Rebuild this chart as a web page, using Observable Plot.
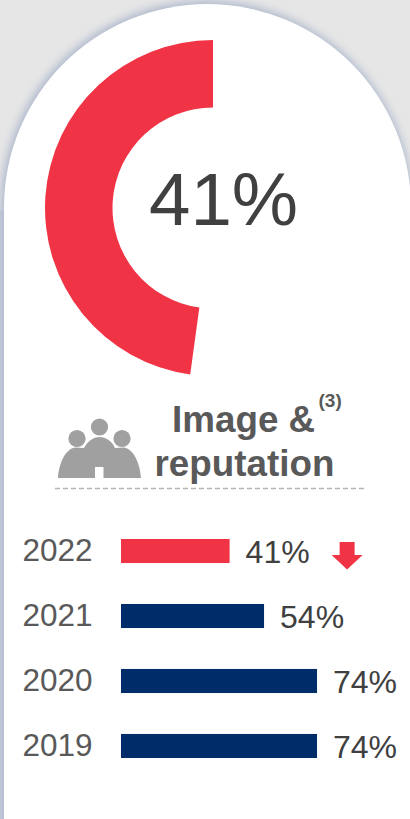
<!DOCTYPE html>
<html>
<head>
<meta charset="utf-8">
<script src="https://cdn.jsdelivr.net/npm/d3@7"></script>
<script src="https://cdn.jsdelivr.net/npm/@observablehq/plot@0.6"></script>
<style>
  html, body { margin: 0; padding: 0; }
  body { width: 410px; height: 819px; background: #e6e6e6; overflow: hidden; position: relative; font-family: "Liberation Sans", Arial, sans-serif; }
  #card { position: absolute; left: 4px; top: 4px; width: 407px; height: 830px; background: #fff; border-radius: 203.5px 203.5px 0 0 / 203.5px 203.5px 0 0; box-shadow: -1px -1px 9px 2px #aeb9cd; }
  #strip { position: absolute; left: 0; top: 210px; width: 4px; height: 609px; background: #ccd2dd; }
  #gauge, #header, #bars { position: absolute; left: 0; }
  #gauge { top: 0; }
  #header { top: 380px; }
  #bars { top: 518px; }
  svg { display: block; overflow: visible; }
</style>
</head>
<body>
<div id="strip"></div>
<div id="card"></div>
<div id="gauge"></div>
<svg id="header" width="410" height="120" viewBox="0 380 410 120">
  <!-- Group-of-people pictogram -->
  <g fill="#a0a0a0">
    <circle cx="99.500" cy="427" r="8.600"/>
    <circle cx="77" cy="438.500" r="8.600"/>
    <circle cx="122" cy="438.500" r="8.600"/>
    <path d="M58 478C59 462 66 449 75 447.500L84 448C88 441 93 437 99.500 437C106 437 112 441 115 448L124 447.500C133 449 140 462 141 478L103.500 478L103.500 467L95 467L95 478Z"/>
  </g>
  <g font-family="Liberation Sans, Arial, sans-serif" font-weight="bold" fill="#595959">
    <text x="172" y="432" font-size="36.800">Image &amp;</text>
    <text x="154.500" y="476" font-size="36.800">reputation</text>
    <text x="318.500" y="407" font-size="19">(3)</text>
  </g>
  <line x1="55" x2="365" y1="488.500" y2="488.500" stroke="#b4b4b4" stroke-width="1.300" stroke-dasharray="5 3"/>
</svg>
<div id="bars"></div>
<script>
// Headline share and its yearly history
const headline = 41;
const years = ["2022", "2021", "2020", "2019"];
const shares = [41, 54, 74, 74];
const trend = ["down", null, null, null];
const barColors = ["#f13445", "#002d6a", "#002d6a", "#002d6a"];

const red = "#f13445";
const rows = years.map((year, i) => ({year, share: shares[i], trend: trend[i], color: barColors[i]}));

// The gauge sweeps counter-clockwise from twelve o'clock
const sweep = d3.scaleLinear([0, 100], [0, -4.2 * 100 * Math.PI / 180]);

function gaugeArc(index, scales, values, {width, height, marginLeft, marginRight, marginTop, marginBottom}) {
  const cx = (marginLeft + width - marginRight) / 2;
  const cy = (marginTop + height - marginBottom) / 2;
  const path = d3.arc().innerRadius(100.5).outerRadius(168).startAngle(0).endAngle(sweep(headline))();
  const g = d3.create("svg:path").attr("transform", `translate(${cx},${cy})`).attr("d", path).attr("fill", red);
  return g.node();
}

document.getElementById("gauge").append(Plot.plot({
  width: 410,
  height: 400,
  marginLeft: 16,
  marginRight: 0,
  marginTop: 16,
  marginBottom: 0,
  style: {background: "transparent"},
  marks: [
    gaugeArc,
    Plot.text([`${headline}%`], {
      frameAnchor: "middle",
      dx: 10,
      dy: -7,
      fontSize: 74.5,
      fontFamily: "Liberation Sans, Arial, sans-serif",
      fill: "#404040"
    })
  ]
}));

// Small arrow flagging a year-on-year fall
const arrowDown = {
  draw(context, size) {
    const s = Math.sqrt(size) / 30;
    context.moveTo(-7.5 * s, -13.5 * s);
    context.lineTo(7.5 * s, -13.5 * s);
    context.lineTo(7.5 * s, -0.5 * s);
    context.lineTo(15.5 * s, -0.5 * s);
    context.lineTo(0, 14 * s);
    context.lineTo(-15.5 * s, -0.5 * s);
    context.lineTo(-7.5 * s, -0.5 * s);
    context.closePath();
  }
};

document.getElementById("bars").append(Plot.plot({
  width: 410,
  height: 260,
  marginLeft: 121,
  marginRight: 0,
  marginTop: 21,
  marginBottom: 20,
  style: {background: "transparent"},
  x: {domain: [0, 109.1], axis: null},
  y: {domain: years, paddingInner: 0.63, paddingOuter: 0, round: false, label: null},
  marks: [
    Plot.axisY({
      tickSize: 0,
      tickPadding: 28,
      fontSize: 31.5,
      fontFamily: "Liberation Sans, Arial, sans-serif",
      color: "#595959",
      textAnchor: "start",
      dx: -71,
      dy: -1
    }),
    Plot.barX(rows, {x: "share", y: "year", fill: "color"}),
    Plot.text(rows, {
      x: "share",
      y: "year",
      text: d => `${d.share}%`,
      textAnchor: "start",
      dx: 15.5,
      dy: 1,
      fontSize: 32,
      fontFamily: "Liberation Sans, Arial, sans-serif",
      fill: "#404040"
    }),
    Plot.dot(rows.filter(d => d.trend === "down"), {
      x: "share",
      y: "year",
      dx: 117,
      dy: 4,
      r: 30 / Math.sqrt(Math.PI),
      symbol: arrowDown,
      fill: red,
      stroke: "none"
    })
  ]
}));
</script>
</body>
</html>
